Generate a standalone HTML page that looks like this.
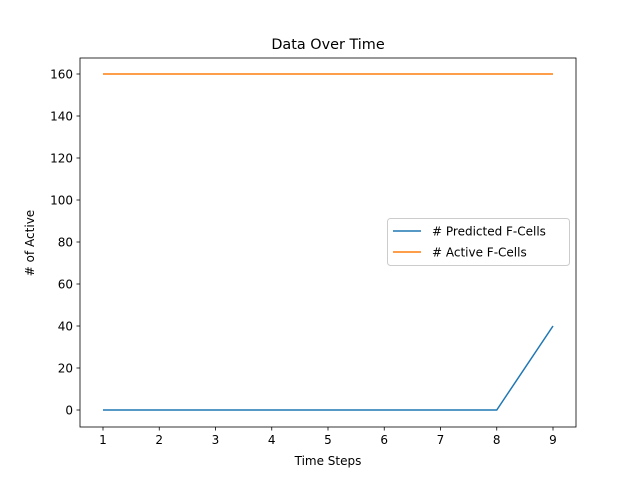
<!DOCTYPE html>
<html><head><meta charset="utf-8"><style>
body{margin:0;background:#fff}
svg{display:block;font-family:"DejaVu Sans","Liberation Sans",sans-serif}
</style></head><body>
<svg id="chart" width="640" height="480" viewBox="0 0 640 480">
<rect width="640" height="480" fill="#fff"/>
<text x="328" y="49" font-size="14.4" text-anchor="middle">Data Over Time</text>
<g id="axes"></g>
<text x="328" y="465" font-size="12" text-anchor="middle">Time Steps</text>
<text transform="translate(34,243) rotate(-90)" font-size="12" text-anchor="middle"># of Active</text>
<g>
<rect x="387.5" y="218.5" width="182" height="47" rx="3" fill="#fff" fill-opacity="0.8" stroke="#ccc"/>
<g>
<line x1="393" y1="231" x2="421" y2="231" stroke="#1f77b4" stroke-width="1.5"/>
<text x="432" y="235.5" font-size="12"># Predicted F-Cells</text></g>
<g>
<line x1="393" y1="252" x2="421" y2="252" stroke="#ff7f0e" stroke-width="1.5"/>
<text x="432" y="256.5" font-size="12"># Active F-Cells</text></g>
</g>
</svg>
<script>
const categories=[1,2,3,4,5,6,7,8,9];
const predicted=[0,0,0,0,0,0,0,0,40];
const active=[160,160,160,160,160,160,160,160,160];
const yTicks=[0,20,40,60,80,100,120,140,160];
const NS="http://www.w3.org/2000/svg";
const L=80,R=576,T=58,B=427;
const xs=v=>103+(v-1)*56.25;
const ys=v=>410-v*2.1;
const g=document.getElementById('axes');
function mk(t,a,p){const e=document.createElementNS(NS,t);for(const k in a)e.setAttribute(k,a[k]);(p||g).appendChild(e);return e;}
categories.forEach(c=>{
 const x=xs(c);
 const tk=mk('line',{x1:x,y1:B,x2:x,y2:B+3.5,stroke:'#000','stroke-width':0.8});
 
 
 const t=mk('text',{x:x,y:B+17,'font-size':12,'text-anchor':'middle'});t.textContent=c;
 
 
});
yTicks.forEach(v=>{
 const y=ys(v);
 const tk=mk('line',{x1:L-3.5,y1:y,x2:L,y2:y,stroke:'#000','stroke-width':0.8});
 
 
 const t=mk('text',{x:L-7,y:y+4.5,'font-size':12,'text-anchor':'end'});t.textContent=v;
 
 
});
function line(arr,color,name){
 const p=mk('polyline',{points:arr.map((v,i)=>xs(categories[i])+','+ys(v)).join(' '),fill:'none',stroke:color,'stroke-width':1.5});
 
 
}
line(predicted,'#1f77b4','predicted-line');
line(active,'#ff7f0e','active-line');
const fr=mk('rect',{x:L,y:T,width:R-L,height:B-T,fill:'none',stroke:'#000','stroke-width':0.8});


</script>
</body></html>
